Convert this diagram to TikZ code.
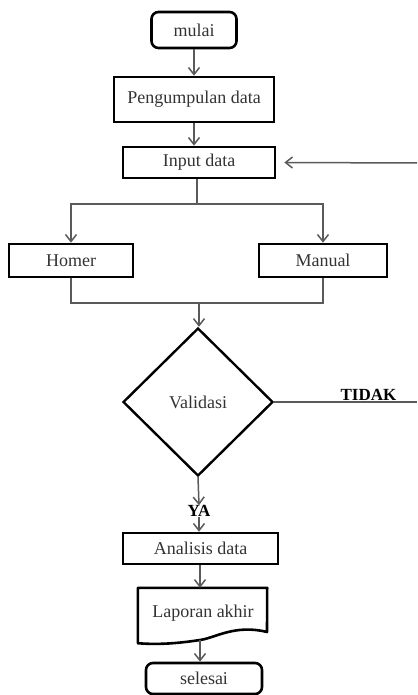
\documentclass[tikz,border=0pt]{standalone}
\usepackage{fontspec}
\setmainfont{Liberation Serif}
\usetikzlibrary{shapes.geometric,arrows.meta}
\definecolor{conn}{HTML}{5A5A5A}
\definecolor{txt}{HTML}{333333}
\tikzset{
  box/.style={draw=black,line width=2.6pt,rectangle,inner sep=0pt,text=txt,font=\fontsize{18}{21}\selectfont},
  rbox/.style={box,rounded corners=7pt},
  decide/.style={draw=black,line width=2.4pt,diamond,inner sep=0pt,aspect=1,text=txt,font=\fontsize{18}{21}\selectfont},
  conline/.style={draw=conn,line width=1.5pt},
  arr/.style={conline,-{Straight Barb[length=7pt,width=11pt,line width=1.5pt]}},
  lbl/.style={inner sep=0pt,text=black,font=\fontsize{17}{20}\selectfont\bfseries}
}
\begin{document}
\begin{tikzpicture}[x=1pt,y=-1pt]
\useasboundingbox (0,0) rectangle (417,695);
\clip (0,0) rectangle (417,695);
\node[rbox,minimum width=85pt,minimum height=36pt] (mulai) at (194,30) {mulai};
\node[box,minimum width=160pt,minimum height=45pt] (peng) at (194,99.5) {Pengumpulan data};
\node[box,minimum width=152pt,minimum height=31pt] (input) at (199,162.5) {Input data};
\node[box,minimum width=124pt,minimum height=33pt] (homer) at (71,260.5) {Homer};
\node[box,minimum width=128pt,minimum height=33pt] (manual) at (323,260.5) {Manual};
\node[decide,minimum width=150pt,minimum height=148pt] (valid) at (198,402) {Validasi};
\node[lbl] (ya) at (199,511) {YA};
\node[box,minimum width=155pt,minimum height=31pt] (anal) at (200.5,548.5) {Analisis data};
\node[inner sep=0pt,minimum width=129pt,minimum height=55pt] (lap) at (202.5,615.5) {};
\node[inner sep=0pt,text=txt,font=\fontsize{18}{21}\selectfont] (laptxt) at (203,613) {Laporan akhir};
\node[rbox,minimum width=116pt,minimum height=31pt] (sel) at (204,678.5) {selesai};
\coordinate (rtop) at (417,163);
\coordinate (rmid) at (417,402);
\coordinate (split) at (197,204);
\coordinate (merge) at (199,303);
\coordinate (lapbot) at (200,639.5);
% document shape
\draw[line width=2.6pt,line join=round] (lap.north west) -- (lap.north east) -- (267,632)
  .. controls (235,624) and (215,638) .. (200,640)
  .. controls (180,643) and (160,645) .. (lap.south west) -- cycle;
% connectors
\draw[arr] (mulai.south) -- (peng.north);
\draw[arr] (peng.south) -- (peng.south |- input.north);
\draw[conline] (input.south -| split) -- (split);
\draw[arr] (split) -| (homer.north);
\draw[arr] (split) -| (manual.north);
\draw[conline] (homer.south) |- (merge);
\draw[conline] (manual.south) |- (merge);
\draw[arr] (merge) -- (merge |- valid.north);
\draw[arr] (rtop) -- ([xshift=8pt]input.east);
\draw[conline] (valid.east) -- (rmid) node[lbl,pos=0.66,anchor=south,yshift=0.5pt] (tidak) {TIDAK};
\draw[arr] (valid.south) -- (ya.north);
\draw[arr] (ya.south) -- (ya.south |- anal.north);
\draw[arr] (anal.south -| lapbot) -- (lapbot |- lap.north);
\draw[arr] (lapbot) -- (lapbot |- sel.north);
\end{tikzpicture}
\end{document}
